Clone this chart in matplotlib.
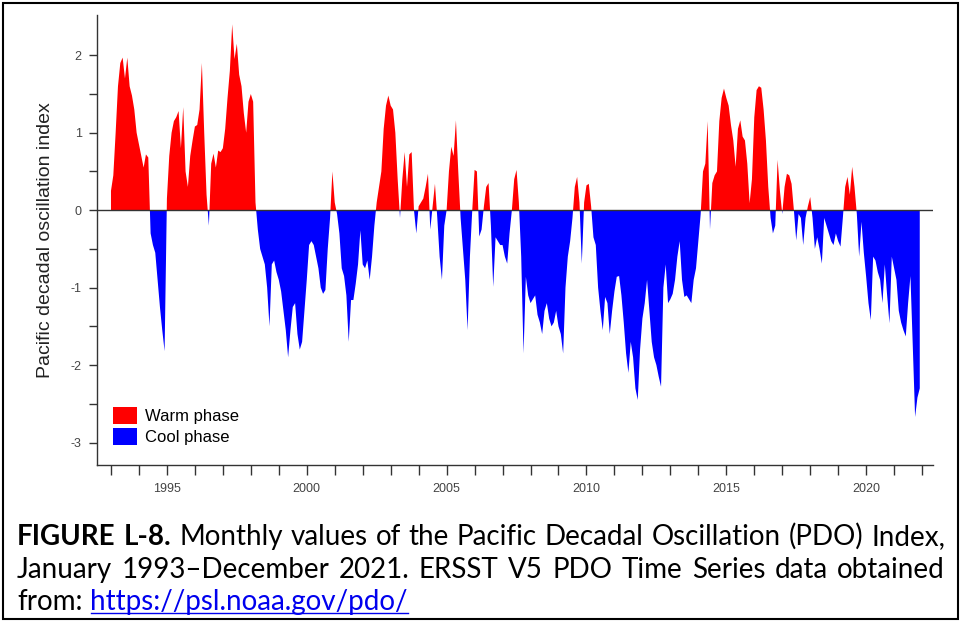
import numpy as np
import matplotlib.pyplot as plt
from matplotlib.patches import Patch, Rectangle
from matplotlib.lines import Line2D

plt.rcParams["font.family"] = ["Liberation Sans", "DejaVu Sans"]

# monthly PDO index, Jan 1993 - Dec 2021 (one row per year)
start_year = 1993
pdo = [
    0.25, 0.45, 1.0, 1.6, 1.9, 1.97, 1.7, 1.97, 1.6, 1.48, 1.3, 1.0,
    0.85, 0.7, 0.55, 0.72, 0.68, -0.3, -0.45, -0.55, -0.9, -1.25, -1.55, -1.82,
    0.15, 0.7, 1.0, 1.15, 1.2, 1.28, 0.8, 1.33, 0.5, 0.3, 0.7, 0.9,
    1.08, 1.1, 1.3, 1.9, 1.0, 0.2, -0.2, 0.6, 0.73, 0.55, 0.77, 0.75,
    0.8, 1.05, 1.45, 1.8, 2.4, 1.95, 2.15, 1.75, 1.6, 1.25, 1.0, 1.4,
    1.5, 1.4, 0.1, -0.25, -0.5, -0.6, -0.7, -1.0, -1.5, -0.7, -0.65, -0.8,
    -0.9, -1.05, -1.3, -1.55, -1.9, -1.55, -1.25, -1.2, -1.6, -1.8, -1.7, -1.3,
    -0.9, -0.45, -0.4, -0.45, -0.6, -0.75, -1.0, -1.08, -1.03, -0.5, -0.1, 0.5,
    0.1, -0.05, -0.3, -0.75, -0.85, -1.1, -1.7, -1.16, -1.16, -0.95, -0.7, -0.26,
    -0.7, -0.75, -0.65, -0.9, -0.6, -0.2, 0.1, 0.3, 0.5, 1.05, 1.35, 1.48,
    1.35, 1.3, 1.0, 0.4, -0.1, 0.4, 0.75, 0.3, 0.72, 0.75, 0.0, -0.3,
    0.05, 0.1, 0.15, 0.3, 0.47, -0.25, 0.05, 0.34, -0.1, -0.6, -0.9, -0.2,
    0.0, 0.5, 0.82, 0.7, 1.16, 0.5, -0.1, -0.5, -0.9, -1.55, -0.6, 0.0,
    0.52, 0.5, -0.34, -0.25, 0.05, 0.3, 0.35, -0.2, -0.99, -0.35, -0.4, -0.45,
    -0.45, -0.6, -0.69, -0.3, 0.0, 0.4, 0.52, 0.1, -0.6, -1.85, -0.86, -1.1,
    -1.2, -1.15, -1.1, -1.35, -1.45, -1.6, -1.3, -1.2, -1.4, -1.5, -1.45, -1.3,
    -1.5, -1.6, -1.85, -1.0, -0.6, -0.4, -0.1, 0.3, 0.43, 0.1, -0.69, 0.1,
    0.32, 0.34, 0.05, -0.35, -0.45, -1.0, -1.3, -1.55, -1.12, -1.2, -1.6, -1.3,
    -1.05, -0.86, -0.85, -1.1, -1.45, -1.85, -2.1, -1.7, -1.9, -2.3, -2.45, -1.8,
    -1.4, -1.2, -0.9, -1.3, -1.7, -1.9, -2.0, -2.15, -2.28, -1.0, -0.7, -1.2,
    -1.15, -1.08, -0.9, -0.6, -0.4, -0.9, -1.12, -1.1, -1.15, -1.2, -0.9, -0.75,
    -0.4, -0.05, 0.5, 0.6, 1.15, -0.25, 0.35, 0.45, 0.5, 1.15, 1.45, 1.57,
    1.45, 1.35, 1.1, 0.9, 0.56, 1.05, 1.16, 0.95, 0.9, 0.6, 0.09, 0.4,
    1.2, 1.55, 1.6, 1.58, 1.3, 0.9, 0.3, -0.1, -0.3, -0.2, 0.65, 0.25,
    -0.05, 0.3, 0.47, 0.45, 0.34, 0.0, -0.39, -0.05, -0.1, -0.45, -0.1, 0.05,
    0.17, -0.1, -0.5, -0.35, -0.5, -0.69, -0.1, -0.2, -0.3, -0.4, -0.45, -0.3,
    -0.4, -0.47, -0.1, 0.3, 0.43, 0.2, 0.56, 0.3, -0.05, -0.6, -0.15, -0.55,
    -0.86, -1.2, -1.42, -0.6, -0.65, -0.8, -0.9, -1.2, -0.7, -1.1, -1.46, -0.6,
    -0.75, -0.9, -1.3, -1.45, -1.55, -1.63, -1.2, -0.85, -1.75, -2.67, -2.42, -2.3,
]

year_ticks = list(range(1993, 2023))
year_labels = [1995, 2000, 2005, 2010, 2015, 2020]
y_major = [-3, -2, -1, 0, 1, 2]
y_minor = [-2.5, -1.5, -0.5, 0.5, 1.5]
legend_labels = ["Warm phase", "Cool phase"]
ylabel = "Pacific decadal oscillation index"

caption1 = [("FIGURE", "bold"), ("L-8.", "bold"), ("Monthly", "normal"),
            ("values", "normal"), ("of", "normal"), ("the", "normal"),
            ("Pacific", "normal"), ("Decadal", "normal"), ("Oscillation", "normal"),
            ("(PDO)", "normal"), ("Index,", "normal")]
caption2 = "January 1993\u2013December 2021. ERSST V5 PDO Time Series data obtained".split(" ")
caption3 = "from:"
link = "https://psl.noaa.gov/pdo/"

warm = "#ff0000"
cool = "#0000ff"
axis_gray = "#333333"
label_gray = "#444444"

W, H = 961, 622
fig = plt.figure(figsize=(W / 100, H / 100), dpi=100)
ax = fig.add_axes([97 / W, 1 - 465 / H, (933 - 97) / W, (465 - 15) / H])

vals = np.array(pdo)
t = start_year + np.arange(len(vals)) / 12.0
ax.fill_between(t, vals, 0, where=vals >= 0, interpolate=True,
                facecolor=warm, edgecolor="none")
ax.fill_between(t, vals, 0, where=vals <= 0, interpolate=True,
                facecolor=cool, edgecolor="none")
ax.axhline(0, color=axis_gray, lw=1.0, zorder=3)

ax.set_xlim(1992.5, 2022.39)
ax.set_ylim(-3.29, 2.52)
ax.set_xticks(year_ticks)
ax.set_xticklabels([str(y) if y in year_labels else "" for y in year_ticks])
ax.set_yticks(y_major)
ax.set_yticks(y_minor, minor=True)
ax.set_yticklabels([str(v) for v in y_major])

for s in ["top", "right"]:
    ax.spines[s].set_visible(False)
for s in ["left", "bottom"]:
    ax.spines[s].set_color(axis_gray)
    ax.spines[s].set_linewidth(1.0)
ax.tick_params(axis="x", length=7, width=1, color=axis_gray,
               labelsize=9, labelcolor=label_gray, pad=6)
ax.tick_params(axis="y", which="both", length=6, width=1, color=axis_gray,
               labelsize=9, labelcolor=label_gray, pad=5)
ax.set_ylabel(ylabel, fontsize=14, color="#222222", labelpad=12)

handles = [Patch(facecolor=warm, edgecolor="none"),
           Patch(facecolor=cool, edgecolor="none")]
ax.legend(handles, legend_labels, loc="lower left",
          bbox_to_anchor=(0.019, 0.044), frameon=False, fontsize=12,
          handlelength=1.45, handleheight=1.15, handletextpad=0.45,
          labelspacing=0.25, borderpad=0, borderaxespad=0)

# outer frame
fig.add_artist(Rectangle((3 / W, 3 / H), (958 - 3) / W, (619 - 3) / H,
                         transform=fig.transFigure, fill=False,
                         edgecolor="black", lw=1.5))

# caption, justified like the source
cap_font = dict(fontsize=20, family=["Lato", "DejaVu Sans"], va="baseline")
renderer = fig.canvas.get_renderer()


def put_words(words, y, x0, x1, justify):
    texts = []
    for w, weight, color in words:
        texts.append(fig.text(0, 1 - y / H, w, fontweight=weight,
                              color=color, **cap_font))
    widths = [tx.get_window_extent(renderer).width for tx in texts]
    if justify:
        gap = (x1 - x0 - sum(widths)) / (len(texts) - 1)
    else:
        gap = 8
    x = x0
    spans = []
    for tx, wd in zip(texts, widths):
        tx.set_x(x / W)
        spans.append((x, x + wd))
        x += wd + gap
    return spans


put_words([(w, wt, "black") for w, wt in caption1], 545, 17, 945, True)
put_words([(w, "normal", "black") for w in caption2], 578, 17, 945, True)
spans = put_words([(caption3, "normal", "black"), (link, "normal", "#0000ee")],
                  610, 17, 945, False)
lx0, lx1 = spans[1]
fig.add_artist(Line2D([lx0 / W, lx1 / W], [1 - 613 / H, 1 - 613 / H],
                      transform=fig.transFigure, color="#0000ee", lw=1.0))

fig.savefig("out.png", dpi=100)
